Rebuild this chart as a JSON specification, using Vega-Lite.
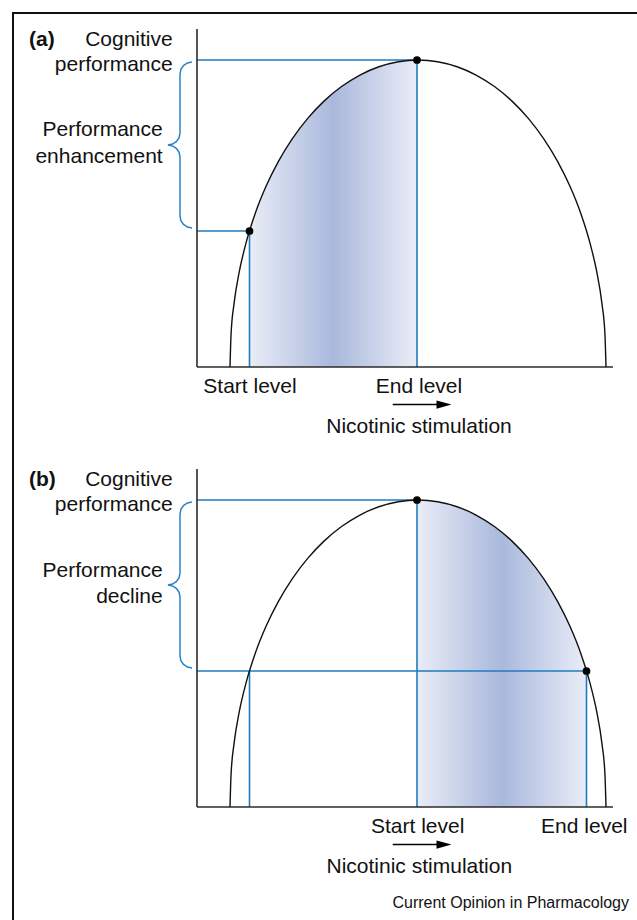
{
  "$schema": "https://vega.github.io/schema/vega-lite/v6.json",
  "background": "white",
  "padding": {"left": 11, "top": 11, "right": 0, "bottom": 0},
  "autosize": {"type": "pad"},
  "config": {"view": {"stroke": null}, "font": "Liberation Sans"},
  "spacing": 102,
  "bounds": "flush",
  "datasets": {
    "curve": [
      {"x": 33, "y": 0}, {"x": 34.03, "y": 32.09}, {"x": 37.12, "y": 63.83}, {"x": 42.19, "y": 94.86},
      {"x": 49.26, "y": 124.86}, {"x": 58.19, "y": 153.5}, {"x": 68.91, "y": 180.45}, {"x": 81.3, "y": 205.41},
      {"x": 95.21, "y": 228.13}, {"x": 110.49, "y": 248.36}, {"x": 127, "y": 265.87}, {"x": 144.54, "y": 280.44},
      {"x": 162.91, "y": 291.99}, {"x": 181.91, "y": 300.28}, {"x": 201.35, "y": 305.31}, {"x": 221, "y": 307},
      {"x": 240.65, "y": 305.31}, {"x": 260.09, "y": 300.28}, {"x": 279.09, "y": 291.99}, {"x": 297.46, "y": 280.44},
      {"x": 315, "y": 265.87}, {"x": 331.51, "y": 248.36}, {"x": 346.79, "y": 228.13}, {"x": 360.7, "y": 205.41},
      {"x": 373.09, "y": 180.45}, {"x": 383.81, "y": 153.5}, {"x": 392.74, "y": 124.86}, {"x": 399.81, "y": 94.86},
      {"x": 404.88, "y": 63.83}, {"x": 407.97, "y": 32.09}, {"x": 409, "y": 0}
    ],
    "shadeA": [
      {"x": 52.5, "y": 136}, {"x": 58.19, "y": 153.5}, {"x": 68.91, "y": 180.45}, {"x": 81.3, "y": 205.41},
      {"x": 95.21, "y": 228.13}, {"x": 110.49, "y": 248.36}, {"x": 127, "y": 265.87}, {"x": 144.54, "y": 280.44},
      {"x": 162.91, "y": 291.99}, {"x": 181.91, "y": 300.28}, {"x": 201.35, "y": 305.31}, {"x": 220, "y": 307}
    ],
    "shadeB": [
      {"x": 220, "y": 307}, {"x": 240.65, "y": 305.31}, {"x": 260.09, "y": 300.28}, {"x": 279.09, "y": 291.99},
      {"x": 297.46, "y": 280.44}, {"x": 315, "y": 265.87}, {"x": 331.51, "y": 248.36}, {"x": 346.79, "y": 228.13},
      {"x": 360.7, "y": 205.41}, {"x": 373.09, "y": 180.45}, {"x": 383.81, "y": 153.5}, {"x": 389.5, "y": 136}
    ],
    "guidesA": [
      {"x": 0, "y": 307, "x2": 220, "y2": 307},
      {"x": 0, "y": 136, "x2": 52.5, "y2": 136},
      {"x": 52.5, "y": 0, "x2": 52.5, "y2": 136},
      {"x": 220, "y": 0, "x2": 220, "y2": 307}
    ],
    "guidesB": [
      {"x": 0, "y": 307, "x2": 220, "y2": 307},
      {"x": 0, "y": 136, "x2": 389.5, "y2": 136},
      {"x": 52.5, "y": 0, "x2": 52.5, "y2": 136},
      {"x": 220, "y": 0, "x2": 220, "y2": 307},
      {"x": 389.5, "y": 0, "x2": 389.5, "y2": 136}
    ],
    "dotsA": [{"x": 52.5, "y": 136}, {"x": 220, "y": 307}],
    "dotsB": [{"x": 220, "y": 307}, {"x": 389.5, "y": 136}],
    "axes": [
      {"x": 0, "y": 0, "x2": 416, "y2": 0},
      {"x": 0, "y": 0, "x2": 0, "y2": 338}
    ],
    "borderA": [
      {"x": -184, "y": 354, "x2": 440, "y2": 354}
    ],
    "borderB": [
      {"x": -184, "y": 794, "x2": -184, "y2": -113}
    ],
    "brace": [
      {"i": 1, "x": -5, "y": 305}, {"i": 2, "x": -9.59, "y": 304.09}, {"i": 3, "x": -13.49, "y": 301.49},
      {"i": 4, "x": -16.09, "y": 297.59}, {"i": 5, "x": -17, "y": 293}, {"i": 6, "x": -17, "y": 234},
      {"i": 7, "x": -17.91, "y": 229.41}, {"i": 8, "x": -20.51, "y": 225.51}, {"i": 9, "x": -24.41, "y": 222.91},
      {"i": 10, "x": -29, "y": 222}, {"i": 11, "x": -24.41, "y": 221.09}, {"i": 12, "x": -20.51, "y": 218.49},
      {"i": 13, "x": -17.91, "y": 214.59}, {"i": 14, "x": -17, "y": 210}, {"i": 15, "x": -17, "y": 151},
      {"i": 16, "x": -16.09, "y": 146.41}, {"i": 17, "x": -13.49, "y": 142.51}, {"i": 18, "x": -9.59, "y": 139.91},
      {"i": 19, "x": -5, "y": 139}
    ],
    "shaft": [{"x": 195.7, "y": -37.5, "x2": 243, "y2": -37.5}],
    "head": [{"x": 247, "y": -37.5}],
    "textA": [
      {"k": "tag", "t": "(a)", "x": -168, "y": 321},
      {"k": "ylab", "t": "Cognitive", "x": -24.3, "y": 321},
      {"k": "ylab", "t": "performance", "x": -24.3, "y": 296},
      {"k": "ylab", "t": "Performance", "x": -34.3, "y": 231},
      {"k": "ylab", "t": "enhancement", "x": -34.3, "y": 204.5},
      {"k": "xlab", "t": "Start level", "x": 53, "y": -26},
      {"k": "xlab", "t": "End level", "x": 222, "y": -26},
      {"k": "xlab", "t": "Nicotinic stimulation", "x": 222, "y": -66}
    ],
    "textB": [
      {"k": "tag", "t": "(b)", "x": -168, "y": 321},
      {"k": "ylab", "t": "Cognitive", "x": -24.3, "y": 321},
      {"k": "ylab", "t": "performance", "x": -24.3, "y": 296},
      {"k": "ylab", "t": "Performance", "x": -34.3, "y": 230},
      {"k": "ylab", "t": "decline", "x": -34.3, "y": 204.5},
      {"k": "xlab", "t": "Start level", "x": 220.7, "y": -26},
      {"k": "xlab", "t": "End level", "x": 387.3, "y": -26},
      {"k": "xlab", "t": "Nicotinic stimulation", "x": 222.3, "y": -66},
      {"k": "credit", "t": "Current Opinion in Pharmacology", "x": 432, "y": -100.5}
    ]
  },
  "vconcat": [
    {
      "width": 416,
      "height": 338,
      "encoding": {
        "x": {"field": "x", "type": "quantitative", "scale": {"domain": [0, 416], "nice": false, "zero": false}, "axis": null},
        "y": {"field": "y", "type": "quantitative", "scale": {"domain": [0, 338], "nice": false, "zero": false}, "axis": null}
      },
      "layer": [
        {"data": {"name": "borderA"}, "mark": {"type": "rule", "color": "#111111", "strokeWidth": 2, "strokeCap": "square"},
         "encoding": {"x2": {"field": "x2"}, "y2": {"field": "y2"}}},
        {"data": {"name": "shadeA"}, "mark": {"type": "area", "interpolate": "monotone", "opacity": 1, "fillOpacity": 1,
          "fill": {"gradient": "linear", "x1": 0, "y1": 0, "x2": 1, "y2": 0,
            "stops": [{"offset": 0, "color": "#eaedf7"}, {"offset": 0.5, "color": "#a9b8dc"}, {"offset": 1, "color": "#eaedf7"}]}},
         "encoding": {"y2": {"datum": 0}}},
        {"data": {"name": "guidesA"}, "mark": {"type": "rule", "color": "#1f7bc1", "strokeWidth": 1.6},
         "encoding": {"x2": {"field": "x2"}, "y2": {"field": "y2"}}},
        {"data": {"name": "axes"}, "mark": {"type": "rule", "color": "#2b2b2b", "strokeWidth": 1.6},
         "encoding": {"x2": {"field": "x2"}, "y2": {"field": "y2"}}},
        {"data": {"name": "curve"}, "mark": {"type": "line", "color": "#111111", "strokeWidth": 1.4, "interpolate": "monotone"}, "encoding": {}},
        {"data": {"name": "brace"}, "mark": {"type": "line", "color": "#2a82c6", "strokeWidth": 1.5},
         "encoding": {"order": {"field": "i", "type": "quantitative"}}},
        {"data": {"name": "dotsA"}, "mark": {"type": "point", "shape": "circle", "filled": true, "color": "#000000", "opacity": 1, "size": 60}, "encoding": {}},
        {"data": {"name": "shaft"}, "mark": {"type": "rule", "color": "#000000", "strokeWidth": 1.4},
         "encoding": {"x2": {"field": "x2"}, "y2": {"field": "y2"}}},
        {"data": {"name": "head"}, "mark": {"type": "point", "shape": "M-1,-0.55L1,0L-1,0.55Z", "filled": true, "color": "#000000", "opacity": 1, "size": 225}, "encoding": {}},
        {"data": {"name": "textA"}, "transform": [{"filter": "datum.k === 'tag'"}],
         "mark": {"type": "text", "align": "left", "baseline": "alphabetic", "fontSize": 21, "fontWeight": "bold", "color": "#111111"},
         "encoding": {"text": {"field": "t"}}},
        {"data": {"name": "textA"}, "transform": [{"filter": "datum.k === 'ylab'"}],
         "mark": {"type": "text", "align": "right", "baseline": "alphabetic", "fontSize": 21, "color": "#111111"},
         "encoding": {"text": {"field": "t"}}},
        {"data": {"name": "textA"}, "transform": [{"filter": "datum.k === 'xlab'"}],
         "mark": {"type": "text", "align": "center", "baseline": "alphabetic", "fontSize": 21, "color": "#111111"},
         "encoding": {"text": {"field": "t"}}}
      ]
    },
    {
      "width": 416,
      "height": 338,
      "encoding": {
        "x": {"field": "x", "type": "quantitative", "scale": {"domain": [0, 416], "nice": false, "zero": false}, "axis": null},
        "y": {"field": "y", "type": "quantitative", "scale": {"domain": [0, 338], "nice": false, "zero": false}, "axis": null}
      },
      "layer": [
        {"data": {"name": "borderB"}, "mark": {"type": "rule", "color": "#111111", "strokeWidth": 2, "strokeCap": "square"},
         "encoding": {"x2": {"field": "x2"}, "y2": {"field": "y2"}}},
        {"data": {"name": "shadeB"}, "mark": {"type": "area", "interpolate": "monotone", "opacity": 1, "fillOpacity": 1,
          "fill": {"gradient": "linear", "x1": 0, "y1": 0, "x2": 1, "y2": 0,
            "stops": [{"offset": 0, "color": "#eaedf7"}, {"offset": 0.5, "color": "#a9b8dc"}, {"offset": 1, "color": "#eaedf7"}]}},
         "encoding": {"y2": {"datum": 0}}},
        {"data": {"name": "guidesB"}, "mark": {"type": "rule", "color": "#1f7bc1", "strokeWidth": 1.6},
         "encoding": {"x2": {"field": "x2"}, "y2": {"field": "y2"}}},
        {"data": {"name": "axes"}, "mark": {"type": "rule", "color": "#2b2b2b", "strokeWidth": 1.6},
         "encoding": {"x2": {"field": "x2"}, "y2": {"field": "y2"}}},
        {"data": {"name": "curve"}, "mark": {"type": "line", "color": "#111111", "strokeWidth": 1.4, "interpolate": "monotone"}, "encoding": {}},
        {"data": {"name": "brace"}, "mark": {"type": "line", "color": "#2a82c6", "strokeWidth": 1.5},
         "encoding": {"order": {"field": "i", "type": "quantitative"}}},
        {"data": {"name": "dotsB"}, "mark": {"type": "point", "shape": "circle", "filled": true, "color": "#000000", "opacity": 1, "size": 60}, "encoding": {}},
        {"data": {"name": "shaft"}, "mark": {"type": "rule", "color": "#000000", "strokeWidth": 1.4},
         "encoding": {"x2": {"field": "x2"}, "y2": {"field": "y2"}}},
        {"data": {"name": "head"}, "mark": {"type": "point", "shape": "M-1,-0.55L1,0L-1,0.55Z", "filled": true, "color": "#000000", "opacity": 1, "size": 225}, "encoding": {}},
        {"data": {"name": "textB"}, "transform": [{"filter": "datum.k === 'tag'"}],
         "mark": {"type": "text", "align": "left", "baseline": "alphabetic", "fontSize": 21, "fontWeight": "bold", "color": "#111111"},
         "encoding": {"text": {"field": "t"}}},
        {"data": {"name": "textB"}, "transform": [{"filter": "datum.k === 'ylab'"}],
         "mark": {"type": "text", "align": "right", "baseline": "alphabetic", "fontSize": 21, "color": "#111111"},
         "encoding": {"text": {"field": "t"}}},
        {"data": {"name": "textB"}, "transform": [{"filter": "datum.k === 'xlab'"}],
         "mark": {"type": "text", "align": "center", "baseline": "alphabetic", "fontSize": 21, "color": "#111111"},
         "encoding": {"text": {"field": "t"}}},
        {"data": {"name": "textB"}, "transform": [{"filter": "datum.k === 'credit'"}],
         "mark": {"type": "text", "align": "right", "baseline": "alphabetic", "fontSize": 16, "color": "#111111"},
         "encoding": {"text": {"field": "t"}}}
      ]
    }
  ]
}
